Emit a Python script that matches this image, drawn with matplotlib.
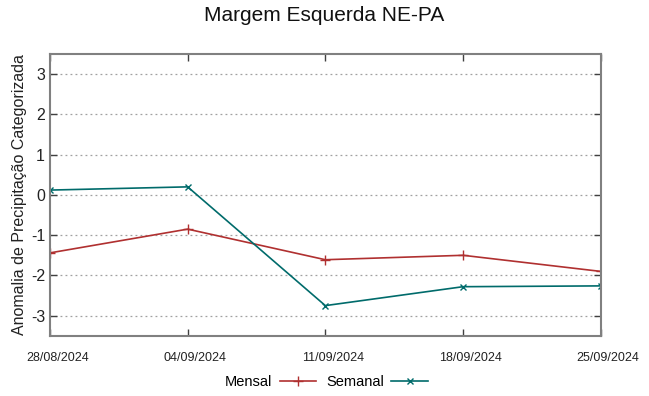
import matplotlib
matplotlib.use("Agg")
import matplotlib.pyplot as plt
import matplotlib.transforms as mtrans
import numpy as np
from datetime import datetime

plt.rcParams['font.family'] = ['Liberation Sans', 'DejaVu Sans']

dates = ["28/08/2024", "04/09/2024", "11/09/2024", "18/09/2024", "25/09/2024"]
mensal = [-1.44, -0.85, -1.61, -1.50, -1.90]
semanal = [0.12, 0.20, -2.75, -2.28, -2.26]
yticks = [-3, -2, -1, 0, 1, 2, 3]

x = [datetime.strptime(d, "%d/%m/%Y") for d in dates]

fig = plt.figure(figsize=(6.49, 3.96), dpi=100)
ax = fig.add_axes([0.077, 0.152, 0.8486, 0.7116])

ax.plot(x, mensal, color='#b03030', lw=1.2, marker='+', ms=7, mew=1.0, label='Mensal')
ax.plot(x, semanal, color='#006b6b', lw=1.2, marker='x', ms=5, mew=1.0, label='Semanal')

ax.set_xlim(x[0], x[-1])
ax.set_ylim(-3.5, 3.5)
ax.set_yticks(yticks)
ax.set_yticklabels([str(v) for v in yticks], fontsize=11.5)
ax.set_xticks(x)
ax.set_xticklabels(dates, fontsize=9)
ax.yaxis.grid(True, linestyle=(0, (1.5, 2.5)), color='#a0a0a0', lw=0.9)
ax.tick_params(direction='in', top=True, right=True, length=5, width=1, colors='#404040', labelcolor='#222222')
ax.tick_params(axis='x', pad=12)
off = mtrans.ScaledTranslation(7.5 / 100, 0, fig.dpi_scale_trans)
for lab in ax.get_xticklabels():
    lab.set_transform(lab.get_transform() + off)
for s in ax.spines.values():
    s.set_color('#808080')
    s.set_linewidth(1.5)

ax.set_ylabel("Anomalia de Precipitação Categorizada", fontsize=11.5, color='#222222', labelpad=3)
fig.suptitle("Margem Esquerda NE-PA", fontsize=15, y=0.985, color='#111111')

fig.legend(loc='lower center', bbox_to_anchor=(0.503, -0.015), ncol=2, frameon=False,
           markerfirst=False, fontsize=10.5, handlelength=2.5, columnspacing=0.7,
           handletextpad=0.5)

fig.savefig("out.png", dpi=100)
